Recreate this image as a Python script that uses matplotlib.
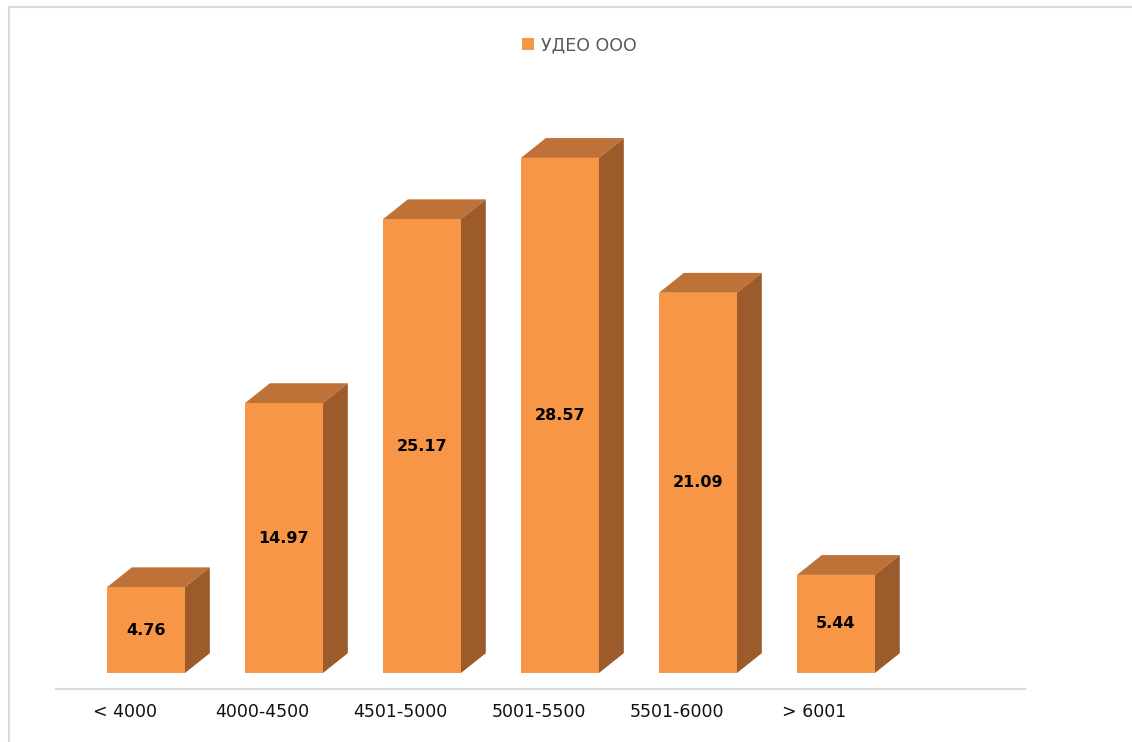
import matplotlib.pyplot as plt
from matplotlib.patches import Polygon, Patch, Rectangle
import numpy as np

categories = ["< 4000", "4000-4500", "4501-5000", "5001-5500", "5501-6000", "> 6001"]
values = [4.76, 14.97, 25.17, 28.57, 21.09, 5.44]
series_name = "УДЕО ООО"

front_color = "#F79646"
top_color = "#BE7238"
side_color = "#9C5B2B"

fig = plt.figure(figsize=(11.32, 7.42), dpi=100)
ax = fig.add_axes([0.0495, 0.093, 0.856, 0.7722])

x = np.arange(len(categories))
width = 0.565
dx = 0.18   # depth offset, x units
dy = 1.1    # depth offset, value units

ax.bar(x, values, width=width, color=front_color, zorder=3)

for xi, v in zip(x, values):
    left = xi - width / 2
    right = xi + width / 2
    top = Polygon([(left, v), (right, v), (right + dx, v + dy), (left + dx, v + dy)],
                  closed=True, facecolor=top_color, edgecolor="none", zorder=2)
    side = Polygon([(right, 0), (right, v), (right + dx, v + dy), (right + dx, dy)],
                   closed=True, facecolor=side_color, edgecolor="none", zorder=2)
    ax.add_patch(top)
    ax.add_patch(side)
    ax.text(xi, v / 2, f"{v:.2f}", ha="center", va="center",
            fontsize=11.5, fontweight="bold", color="black", zorder=4)
    ax.text(xi - 0.155, -2.15, categories[int(xi)], ha="center", va="center",
            fontsize=12.5, color="#111111", clip_on=False)

ax.set_xlim(-0.652, 6.370)
ax.set_ylim(0, 31.78)

# baseline under the bars
ax.axhline(-0.89, color="#D9D9D9", linewidth=1.5, clip_on=False)

ax.axis("off")

fig.legend(handles=[Patch(facecolor=front_color, label=series_name)],
           loc="center", bbox_to_anchor=(0.512, 0.939), frameon=False,
           handlelength=0.7, handleheight=0.7, handletextpad=0.4,
           fontsize=12.5, labelcolor="#595959")

# chart area border
fig.add_artist(Rectangle((8.5 / 1132, -0.1), 1.2, 1.1 - 6.5 / 742,
                         transform=fig.transFigure, fill=False,
                         edgecolor="#D9D9D9", linewidth=1.5))

fig.savefig("out.png", dpi=100, facecolor="white")
